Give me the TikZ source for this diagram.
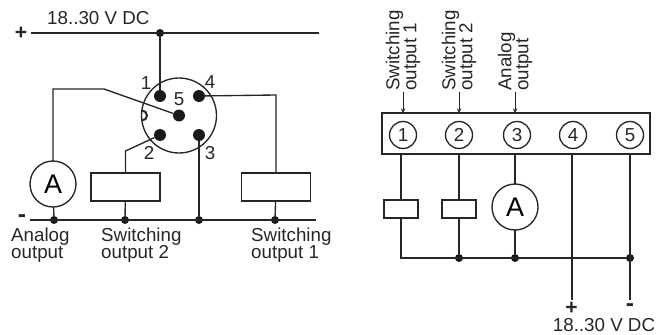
\documentclass[tikz,border=0pt]{standalone}
\usepackage{fontspec}
\setmainfont{Liberation Sans}
\tikzset{
  wire/.style={line width=1.15pt, draw=black!85},
  pindot/.style={circle, fill=black!90, inner sep=0pt, minimum size=0.36cm},
  jdot/.style={circle, fill=black!90, inner sep=0pt, minimum size=0.24cm},
  meter/.style={circle, wire, inner sep=0pt, outer sep=0pt, minimum size=1.38cm, font=\fontsize{23}{23}\selectfont},
  coilbig/.style={rectangle, wire, inner sep=0pt, outer sep=0pt, minimum width=2.07cm, minimum height=0.84cm},
  coilsmall/.style={rectangle, wire, inner sep=0pt, outer sep=0pt, minimum width=1.02cm, minimum height=0.54cm},
  termnum/.style={circle, wire, inner sep=0pt, outer sep=0pt, minimum size=0.81cm},
  lbl/.style={inner sep=0pt, text=black!85, font=\fontsize{16}{14.5}\selectfont, align=left},
  pluslbl/.style={lbl, font=\fontsize{18}{14}\selectfont\bfseries},
  minuslbl/.style={lbl, font=\fontsize{21}{14}\selectfont\bfseries},
  sidelbl/.style={lbl, rotate=90, anchor=west, inner sep=1pt},
}
\begin{document}
\begin{tikzpicture}[x=0.03cm, y=-0.03cm]
\useasboundingbox (0,0) rectangle (664,335);
\begin{scope} % left: connector {{{
\node[lbl, anchor=base west] (supplyL) at (47,25) {18..30 V DC};
\node[pluslbl] (plusL) at (21,33) {+};
\node[minuslbl] (minusL) at (22,219) {-};
\coordinate (topa) at (31,33);
\coordinate (topb) at (319,33);
\coordinate (bota) at (30,220);
\coordinate (botb) at (316,220);
\node[jdot] (jtop) at (160,33) {};
\node[jdot] (jA) at (54,220) {};
\node[jdot] (jS2) at (125,220) {};
\node[jdot] (jP3) at (199,220) {};
\node[jdot] (jS1) at (275,220) {};
\node[circle, wire, inner sep=0pt, minimum size=2.25cm] (plug) at (179,115.5) {};
\node[pindot] (p1) at (160,96) {};
\node[pindot] (p4) at (199,96) {};
\node[pindot] (p5) at (179,115.5) {};
\node[pindot] (p2) at (160,135) {};
\node[pindot] (p3) at (199,135) {};
\node[lbl] (n1) at (146,83) {1};
\node[lbl] (n4) at (210,82) {4};
\node[lbl] (n5) at (179,99) {5};
\node[lbl] (n2) at (149,153) {2};
\node[lbl] (n3) at (210,153) {3};
\draw[wire, line width=1.7pt] (142,120.5) arc[start angle=90, end angle=-90, radius=5];
\node[meter] (mL) at (53,184) {A};
\node[coilbig] (s2L) at (125.5,187) {};
\node[coilbig] (s1L) at (276,187) {};
\coordinate (k5a) at (53,89);
\coordinate (k5b) at (104,89);
\coordinate (k2) at (125.5,151);
\coordinate (k4) at (276,95);
\draw[wire] (topa) -- (topb);
\draw[wire] (bota) -- (botb);
\draw[wire] (jtop) -- (p1);
\draw[wire] (mL) -- (k5a) -- (k5b) -- (p5);
\draw[wire] (p2) -- (k2) -- (s2L);
\draw[wire] (p4) -- (k4) -- (s1L);
\draw[wire] (p3) -- (jP3);
\draw[wire] (mL) -- (jA);
\draw[wire] (s2L) -- (jS2);
\draw[wire] (s1L) -- (jS1);
\node[lbl, anchor=west] (anaL) at (11,245) {Analog\\output};
\node[lbl, anchor=west] (sw2L) at (101,245) {Switching\\output 2};
\node[lbl, anchor=west] (sw1L) at (251,245) {Switching\\output 1};
\end{scope} % }}}
\begin{scope} % right: terminal strip {{{
\node[rectangle, wire, inner sep=0pt, outer sep=0pt, minimum width=8.04cm, minimum height=1.23cm] (strip) at (516,133.5) {};
\foreach \i/\xx in {1/403, 2/459, 3/517, 4/573, 5/630}
  \node[termnum, lbl, inner sep=0pt, align=center] (t\i) at (\xx,135) {\i};
\node[sidelbl] (sw1R) at (403,92) {Switching\\output 1};
\node[sidelbl] (sw2R) at (459,92) {Switching\\output 2};
\node[sidelbl] (anaR) at (515,92) {Analog\\output};
\draw[wire, line width=0.8pt, -stealth] (sw1R.west) -- (sw1R.west |- strip.north);
\draw[wire, line width=0.8pt, -stealth] (sw2R.west) -- (sw2R.west |- strip.north);
\draw[wire, line width=0.8pt, -stealth] (anaR.west) -- (anaR.west |- strip.north);
\node[coilsmall] (s1R) at (401,209) {};
\node[coilsmall] (s2R) at (459,209) {};
\node[meter] (mR) at (515,207) {A};
\coordinate (jS1R) at (401,258);
\node[jdot] (jS2R) at (459,258) {};
\node[jdot] (jAR) at (515,258) {};
\node[jdot] (j5R) at (630,258) {};
\coordinate (end4) at (572,300);
\coordinate (end5) at (630,300);
\draw[wire] (s1R |- strip.south) -- (s1R);
\draw[wire] (s1R) -- (jS1R) -- (j5R);
\draw[wire] (s2R |- strip.south) -- (s2R) -- (jS2R);
\draw[wire] (mR |- strip.south) -- (mR) -- (jAR);
\draw[wire] (end4 |- strip.south) -- (end4);
\draw[wire] (end5 |- strip.south) -- (end5);
\node[pluslbl] (plusR) at (571.5,308) {+};
\node[minuslbl] (minusR) at (630,308) {-};
\node[lbl, anchor=base] (supplyR) at (604,331.5) {18..30 V DC};
\end{scope} % }}}
\end{tikzpicture}
\end{document}
